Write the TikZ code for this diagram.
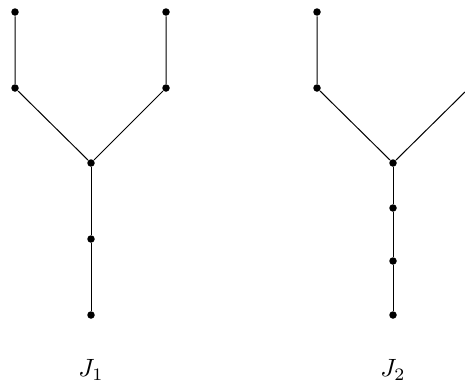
\documentclass[tikz,border=0pt]{standalone}
\begin{document}
\begin{tikzpicture}[x=0.4pt,y=-0.4pt,
  dot/.style={circle,fill=black,inner sep=0pt,minimum size=3pt},
  edge/.style={draw=black,line width=0.4pt}]
\useasboundingbox (0,0) rectangle (465,387);
% J1
\node[dot] (a1) at (15,12) {};
\node[dot] (a2) at (15,88) {};
\node[dot] (b1) at (166,12) {};
\node[dot] (b2) at (166,88) {};
\node[dot] (c) at (91,163) {};
\node[dot] (d1) at (91,239) {};
\node[dot] (d2) at (91,315) {};
\path[edge] (a1) -- (a2) -- (c) -- (b2) -- (b1);
\path[edge] (c) -- (d1) -- (d2);
\node (l1) at (91,370) {$J_1$};
% J2
\node[dot] (e1) at (317,12) {};
\node[dot] (e2) at (317,88) {};
\node[dot] (f1) at (469,12) {};
\node[dot] (f2) at (469,88) {};
\node[dot] (g) at (393,163) {};
\node[dot] (h1) at (393,208) {};
\node[dot] (h2) at (393,261) {};
\node[dot] (h3) at (393,315) {};
\path[edge] (e1) -- (e2) -- (g) -- (f2) -- (f1);
\path[edge] (g) -- (h1) -- (h2) -- (h3);
\node (l2) at (393,370) {$J_2$};
\end{tikzpicture}
\end{document}
